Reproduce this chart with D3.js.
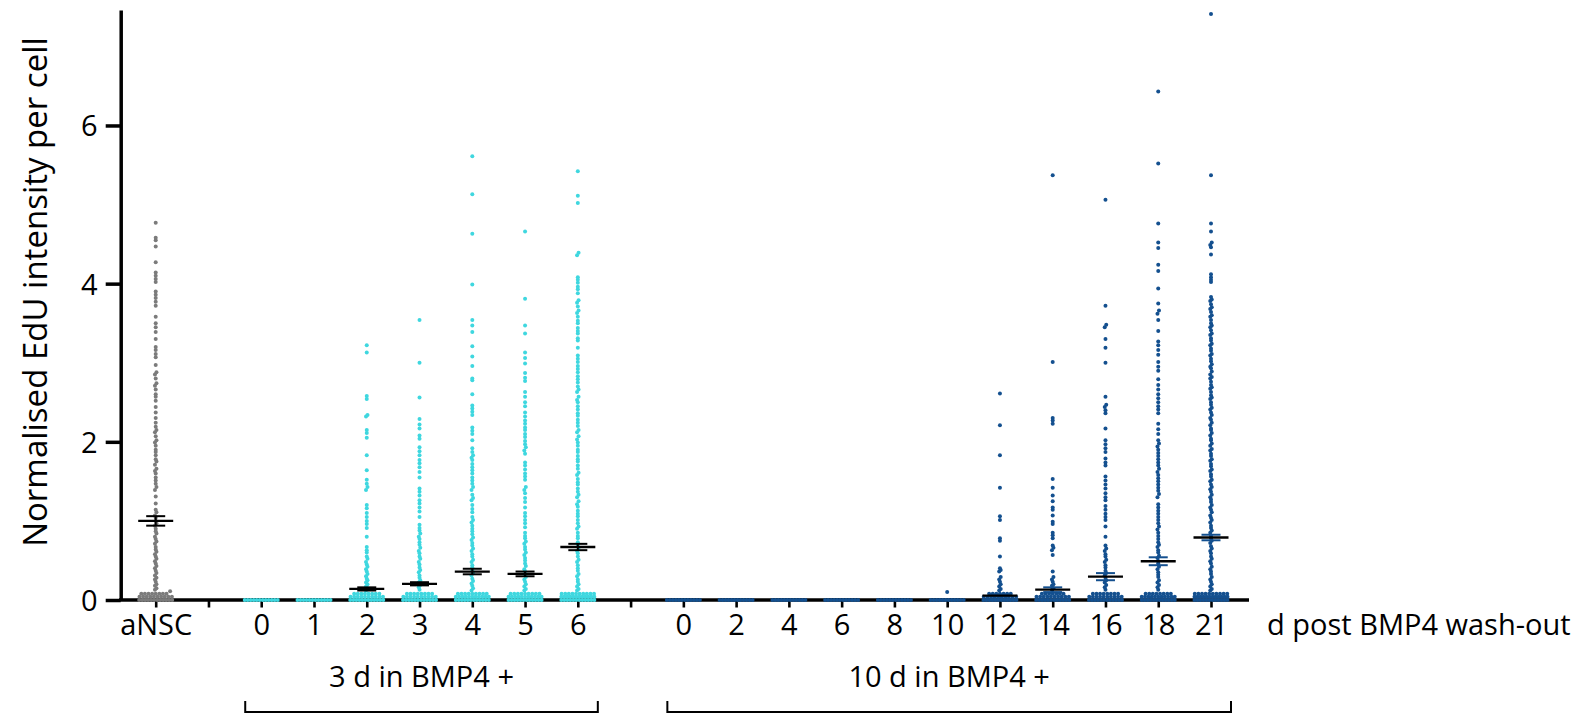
<!DOCTYPE html>
<html>
<head>
<meta charset="utf-8">
<script src="https://cdn.jsdelivr.net/npm/d3@7"></script>
<style>
  body { margin: 0; background: #fff; }
  text { font-family: "Open Sans", sans-serif; fill: #000; }
</style>
</head>
<body>
<svg id="chart" width="1583" height="715"></svg>
<script>
// ---- data ----
const days3d = ["0", "1", "2", "3", "4", "5", "6"];
const days10d = ["0", "2", "4", "6", "8", "10", "12", "14", "16", "18", "21"];

const meanANSC = 1.0;
const semANSC = 0.06;
const means3d = [0.004, 0.004, 0.14, 0.205, 0.36, 0.33, 0.67];
const sem3d = [0.002, 0.002, 0.02, 0.02, 0.035, 0.03, 0.04];
const means10d = [0.003, 0.003, 0.003, 0.003, 0.003, 0.004, 0.055, 0.13, 0.295, 0.49, 0.79];
const sem10d = [0.001, 0.001, 0.001, 0.001, 0.001, 0.002, 0.012, 0.03, 0.045, 0.05, 0.035];

// cells sitting at (almost) zero: counts at each of these levels
const nearZeroLevels = [0, 0.04, 0.08];
const nearZeroANSC = [12, 10, 8];
const nearZero3d = [[12, 0, 0], [12, 0, 0], [12, 10, 8], [12, 10, 8], [12, 11, 9], [12, 11, 9], [12, 12, 10]];
const nearZero10d = [[12, 0, 0], [12, 0, 0], [12, 0, 0], [12, 0, 0], [12, 0, 0], [12, 0, 0],
  [12, 10, 7], [12, 10, 7], [12, 10, 8], [12, 11, 8], [12, 12, 10]];

const tailANSC = [4.77, 4.58, 4.55, 4.47, 4.27, 4.14, 4.1, 4.06, 4.02, 3.9, 3.86, 3.82, 3.77, 3.72, 3.58, 3.5,
  3.45, 3.39, 3.3, 3.2, 3.16, 3.11, 3.07, 2.97, 2.88, 2.85, 2.8, 2.74, 2.71, 2.66, 2.6, 2.57, 2.52, 2.44, 2.37,
  2.3, 2.24, 2.19, 2.15, 2.12, 2.07, 2.02, 1.99, 1.95, 1.9, 1.87, 1.83, 1.78, 1.75, 1.71, 1.66, 1.63, 1.6, 1.55,
  1.51, 1.47, 1.43, 1.39, 1.31, 1.22, 1.14, 1.11, 1.07, 1.04, 1.0, 0.97, 0.94, 0.9, 0.87, 0.84, 0.8, 0.77, 0.74,
  0.71, 0.67, 0.64, 0.61, 0.58, 0.55, 0.52, 0.49, 0.46, 0.43, 0.4, 0.37, 0.34, 0.31, 0.28, 0.26, 0.23, 0.2, 0.18,
  0.15, 0.13, 0.11];

const tail3d2 = [3.22, 3.13, 2.58, 2.54, 2.34, 2.32, 2.15, 2.11, 2.05, 1.83, 1.64, 1.52, 1.47, 1.43, 1.39, 1.2,
  1.16, 1.1, 1.05, 1.0, 0.96, 0.91, 0.8, 0.67, 0.63, 0.6, 0.55, 0.52, 0.48, 0.45, 0.42, 0.39, 0.36, 0.33, 0.3,
  0.27, 0.25, 0.22, 0.2, 0.17, 0.15, 0.12];
const tail3d3 = [3.54, 3.0, 2.56, 2.29, 2.22, 2.17, 2.08, 2.04, 1.93, 1.88, 1.83, 1.77, 1.73, 1.68, 1.62, 1.55,
  1.41, 1.37, 1.32, 1.26, 1.22, 1.17, 1.12, 1.05, 0.95, 0.91, 0.88, 0.84, 0.8, 0.77, 0.73, 0.7, 0.66, 0.62, 0.59,
  0.55, 0.52, 0.48, 0.45, 0.41, 0.38, 0.35, 0.31, 0.28, 0.25, 0.22, 0.19, 0.16, 0.13];
const tail3d4 = [5.61, 5.13, 4.63, 3.99, 3.54, 3.47, 3.39, 3.21, 3.08, 2.96, 2.8, 2.78, 2.6, 2.46, 2.42, 2.38,
  2.34, 2.18, 2.14, 2.1, 2.02, 1.92, 1.87, 1.83, 1.8, 1.77, 1.72, 1.68, 1.64, 1.6, 1.55, 1.51, 1.47, 1.43, 1.39,
  1.33, 1.29, 1.26, 1.2, 1.15, 1.11, 1.05, 1.01, 0.98, 0.94, 0.9, 0.87, 0.83, 0.79, 0.76, 0.72, 0.69, 0.65, 0.62,
  0.58, 0.55, 0.51, 0.48, 0.44, 0.41, 0.37, 0.34, 0.31, 0.27, 0.24, 0.21, 0.18, 0.15, 0.12];
const tail3d5 = [4.66, 3.81, 3.47, 3.37, 3.13, 3.06, 2.99, 2.87, 2.81, 2.77, 2.63, 2.57, 2.5, 2.45, 2.37, 2.32,
  2.27, 2.23, 2.18, 2.15, 2.1, 2.06, 2.01, 1.97, 1.93, 1.89, 1.85, 1.74, 1.7, 1.65, 1.6, 1.56, 1.52, 1.43, 1.39,
  1.35, 1.29, 1.24, 1.17, 1.1, 1.06, 1.01, 0.97, 0.92, 0.85, 0.81, 0.78, 0.74, 0.71, 0.67, 0.64, 0.6, 0.57, 0.53,
  0.5, 0.46, 0.43, 0.39, 0.36, 0.32, 0.29, 0.26, 0.23, 0.2, 0.17, 0.14, 0.12];
const tail3d6 = [5.42, 5.11, 5.02, 4.39, 4.36, 4.08, 4.05, 4.01, 3.96, 3.93, 3.88, 3.79, 3.76, 3.71, 3.66, 3.63,
  3.58, 3.53, 3.5, 3.44, 3.4, 3.37, 3.31, 3.28, 3.19, 3.09, 3.05, 3.01, 2.96, 2.92, 2.88, 2.83, 2.79, 2.75, 2.7,
  2.66, 2.63, 2.57, 2.53, 2.5, 2.45, 2.41, 2.36, 2.33, 2.28, 2.24, 2.2, 2.15, 2.12, 2.07, 2.03, 1.99, 1.95, 1.9,
  1.87, 1.82, 1.78, 1.75, 1.7, 1.66, 1.61, 1.58, 1.53, 1.49, 1.46, 1.41, 1.37, 1.33, 1.3, 1.25, 1.21, 1.18, 1.13,
  1.09, 1.06, 1.01, 0.97, 0.93, 0.9, 0.85, 0.81, 0.78, 0.73, 0.7, 0.66, 0.62, 0.59, 0.55, 0.51, 0.48, 0.44, 0.4,
  0.37, 0.33, 0.3, 0.26, 0.23, 0.2, 0.17, 0.14, 0.12];

const tail10d10 = [0.1];
const tail10d12 = [2.61, 2.21, 1.83, 1.42, 1.06, 1.01, 0.78, 0.75, 0.55, 0.4, 0.38, 0.36, 0.29, 0.26, 0.23, 0.2,
  0.17, 0.14, 0.12];
const tail10d14 = [5.37, 3.01, 2.3, 2.27, 2.23, 1.53, 1.42, 1.32, 1.25, 1.17, 1.14, 1.07, 0.99, 0.96, 0.85, 0.82,
  0.78, 0.69, 0.66, 0.63, 0.57, 0.36, 0.29, 0.26, 0.23, 0.2, 0.18, 0.15, 0.13];
const tail10d16 = [5.06, 3.72, 3.48, 3.45, 3.3, 3.19, 3.0, 2.57, 2.47, 2.44, 2.4, 2.36, 2.17, 2.02, 1.97, 1.92,
  1.87, 1.79, 1.74, 1.7, 1.56, 1.51, 1.46, 1.41, 1.35, 1.3, 1.26, 1.19, 1.14, 1.09, 1.05, 1.01, 0.93, 0.8, 0.69,
  0.65, 0.62, 0.58, 0.55, 0.51, 0.48, 0.44, 0.41, 0.37, 0.34, 0.31, 0.28, 0.25, 0.22, 0.19, 0.16, 0.13];
const tail10d18 = [6.43, 5.52, 4.76, 4.52, 4.45, 4.24, 4.16, 3.94, 3.75, 3.66, 3.62, 3.54, 3.4, 3.27, 3.22, 3.16,
  3.1, 3.01, 2.95, 2.9, 2.79, 2.72, 2.66, 2.6, 2.55, 2.5, 2.45, 2.41, 2.36, 2.23, 2.16, 2.1, 2.02, 1.98, 1.94,
  1.9, 1.86, 1.82, 1.78, 1.74, 1.7, 1.66, 1.62, 1.58, 1.54, 1.5, 1.46, 1.42, 1.38, 1.34, 1.3, 1.21, 1.17, 1.13,
  1.09, 1.05, 1.01, 0.97, 0.93, 0.89, 0.85, 0.81, 0.77, 0.73, 0.7, 0.67, 0.63, 0.6, 0.56, 0.53, 0.49, 0.46, 0.42,
  0.39, 0.35, 0.32, 0.29, 0.25, 0.22, 0.19, 0.16, 0.13];
const tail10d21 = [7.41, 5.37, 4.76, 4.66, 4.52, 4.49, 4.46, 4.37, 4.12, 4.08, 4.05, 4.02, 3.83, 3.8, 3.78, 3.74,
  3.7, 3.68, 3.64, 3.6, 3.58, 3.54, 3.5, 3.47, 3.45, 3.41, 3.37, 3.35, 3.31, 3.28, 3.24, 3.22, 3.18, 3.15, 3.11,
  3.09, 3.05, 3.02, 2.98, 2.95, 2.93, 2.89, 2.85, 2.82, 2.8, 2.76, 2.72, 2.69, 2.67, 2.63, 2.59, 2.56, 2.54, 2.5,
  2.47, 2.43, 2.41, 2.37, 2.34, 2.3, 2.28, 2.24, 2.21, 2.17, 2.15, 2.11, 2.08, 2.04, 2.02, 1.98, 1.95, 1.91, 1.89,
  1.85, 1.82, 1.78, 1.76, 1.72, 1.69, 1.65, 1.63, 1.59, 1.56, 1.52, 1.5, 1.46, 1.43, 1.4, 1.37, 1.33, 1.3, 1.27,
  1.24, 1.2, 1.17, 1.14, 1.11, 1.07, 1.04, 1.01, 0.98, 0.94, 0.91, 0.88, 0.85, 0.81, 0.78, 0.75, 0.72, 0.68, 0.65,
  0.62, 0.59, 0.55, 0.52, 0.49, 0.46, 0.42, 0.39, 0.36, 0.33, 0.29, 0.26, 0.23, 0.2, 0.17, 0.14, 0.12];

const tails3d = [[], [], tail3d2, tail3d3, tail3d4, tail3d5, tail3d6];
const tails10d = [[], [], [], [], [], tail10d10, tail10d12, tail10d14, tail10d16, tail10d18, tail10d21];

const yTicks = [0, 2, 4, 6];

// ---- colours ----
const grey = "#7b7b7b";
const cyan = "#3fd7df";
const blue = "#14508f";

// ---- build group table ----
const expand = (counts) => counts.flatMap((c, i) => Array(c).fill(nearZeroLevels[i]));

const groups = [];
groups.push({ key: "aNSC", label: "aNSC", color: grey, cap: "#000", mean: meanANSC, sem: semANSC,
  values: expand(nearZeroANSC).concat(tailANSC) });
groups.push({ key: "gapA", label: "", blank: true });
days3d.forEach((d, i) => groups.push({ key: "a" + d, label: d, color: cyan, cap: "#000",
  mean: means3d[i], sem: sem3d[i], values: expand(nearZero3d[i]).concat(tails3d[i]) }));
groups.push({ key: "gapB", label: "", blank: true });
days10d.forEach((d, i) => groups.push({ key: "b" + d, label: d, color: blue, cap: blue,
  mean: means10d[i], sem: sem10d[i], values: expand(nearZero10d[i]).concat(tails10d[i]) }));

// ---- scales ----
const svg = d3.select("#chart");
const y0 = 600;
const y = d3.scaleLinear().domain([0, 7.46]).range([y0, 10]);
const x = d3.scalePoint().domain(groups.map((g) => g.key)).range([155.7, 1211]);

// ---- axes ----
const yAxis = svg.append("g")
  .attr("transform", "translate(120.7,0)")
  .call(d3.axisLeft(y).tickValues(yTicks).tickSize(15).tickSizeOuter(0).tickPadding(8).tickFormat(d3.format("d")));
yAxis.select(".domain").attr("stroke-width", 3.5);
yAxis.selectAll(".tick line").attr("stroke-width", 3.5);
yAxis.selectAll(".tick text").style("font-size", "29px").attr("dy", "0.36em");

const xAxis = svg.append("g")
  .attr("transform", `translate(0,${y0})`)
  .call(d3.axisBottom(x).tickSize(7.5).tickSizeOuter(0).tickFormat((k) => groups.find((g) => g.key === k).label));
xAxis.select(".domain").remove();
xAxis.selectAll(".tick line").attr("stroke-width", 2.6);
xAxis.selectAll(".tick text").style("font-size", "29px").attr("y", 35).attr("dy", null);

svg.append("line")
  .attr("x1", 119).attr("x2", 1249)
  .attr("y1", y0).attr("y2", y0)
  .attr("stroke", "#000").attr("stroke-width", 3.5);

// ---- dots: single column, crowded rows spread sideways ----
const rowH = 3.6, dotD = 3.6, halfW = 16.5;
function swarm(values, cx) {
  const rows = d3.group(values.slice().sort(d3.ascending), (v) => Math.round((y0 - y(v)) / rowH));
  const pts = [];
  rows.forEach((vs) => {
    const n = vs.length;
    const step = n > 3 ? Math.min(dotD, (2 * halfW) / (n - 1)) : 1.5;
    vs.forEach((v, i) => pts.push({ x: cx + (i - (n - 1) / 2) * step, y: y(v) }));
  });
  return pts;
}

const real = groups.filter((g) => !g.blank);

function drawMean(g) {
  const cx = x(g.key);
  const gg = svg.append("g");
  gg.append("line")
    .attr("x1", cx).attr("x2", cx)
    .attr("y1", y(g.mean + g.sem)).attr("y2", y(g.mean - g.sem))
    .attr("stroke", g.cap).attr("stroke-width", 2);
  [g.mean + g.sem, g.mean - g.sem].forEach((v) => {
    gg.append("line")
      .attr("x1", cx - 9.5).attr("x2", cx + 9.5)
      .attr("y1", y(v)).attr("y2", y(v))
      .attr("stroke", g.cap).attr("stroke-width", 2);
  });
  gg.append("line")
    .attr("x1", cx - 17.5).attr("x2", cx + 17.5)
    .attr("y1", y(g.mean)).attr("y2", y(g.mean))
    .attr("stroke", "#000").attr("stroke-width", 2.3);
}

// flat groups: mean sits under the dots
real.filter((g) => g.mean < 0.01).forEach(drawMean);

real.forEach((g) => {
  svg.append("g")
    .selectAll("circle")
    .data(swarm(g.values, x(g.key)))
    .join("circle")
    .attr("cx", (d) => d.x)
    .attr("cy", (d) => d.y)
    .attr("r", 2.0)
    .attr("fill", g.color);
});

real.filter((g) => g.mean >= 0.01).forEach(drawMean);

// ---- titles ----
svg.append("text")
  .attr("transform", "translate(47,292) rotate(-90)")
  .attr("text-anchor", "middle")
  .style("font-size", "33px")
  .text("Normalised EdU intensity per cell");

svg.append("text")
  .attr("x", 1267).attr("y", 635)
  .style("font-size", "29px")
  .text("d post BMP4 wash-out");

// ---- group brackets ----
const brackets = [
  { from: "a0", to: "a6", text: "3 d in BMP4 +" },
  { from: "b0", to: "b21", text: "10 d in BMP4 +" },
];
brackets.forEach((b) => {
  const x1 = x(b.from) - 16, x2 = x(b.to) + 20;
  svg.append("path")
    .attr("d", `M${x1},701V712H${x2}V701`)
    .attr("fill", "none").attr("stroke", "#000").attr("stroke-width", 2);
  svg.append("text")
    .attr("x", (x1 + x2) / 2).attr("y", 687)
    .attr("text-anchor", "middle")
    .style("font-size", "29px")
    .text(b.text);
});
</script>
</body>
</html>
